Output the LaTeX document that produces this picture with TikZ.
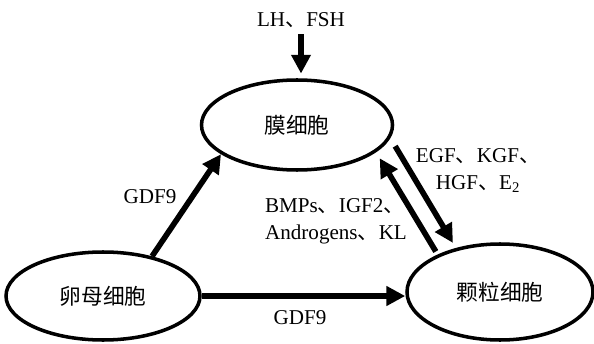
\documentclass[tikz,border=0pt]{standalone}
\usepackage{fontspec}
\setmainfont{Liberation Serif}
\newfontfamily\cjk{Noto Sans CJK SC}
\usetikzlibrary{arrows.meta, shapes.geometric}
\newcommand{\dun}{{\cjk 、}}

\begin{document}
\begin{tikzpicture}[
    x=0.03cm, y=-0.03cm,
    font=\fontsize{18}{23}\selectfont,
    cell/.style={draw, ellipse, line width=3pt, inner sep=0pt, font=\cjk\fontsize{18.5}{22}\selectfont},
    arrow/.style={-{Triangle[length=16pt, width=16pt]}, line width=4.8pt},
]
\useasboundingbox (0,0) rectangle (594,344);

% cells
\node[cell, minimum width=5.73cm, minimum height=2.7cm] (theca) at (297,125) {膜细胞};
\node[cell, minimum width=5.82cm, minimum height=2.64cm] (oocyte) at (103,296) {卵母细胞};
\node[cell, minimum width=5.58cm, minimum height=2.88cm] (granulosa) at (500,292) {颗粒细胞};

% hormones from above
\node (lh) at (301,20) {LH\dun FSH};
\draw[arrow, shorten <=2pt, shorten >=4pt] (lh.south) -- (lh.south |- theca.north);

% oocyte signals
\node (gdfa) at (150,197) {GDF9};
\draw[arrow] (oocyte.39) -- (theca.201);
\node (gdfb) at (300,318) {GDF9};
\draw[arrow] (oocyte.east) -- (oocyte.east -| granulosa.west);

% theca <-> granulosa
\node[align=center] (egf) at (478,171) {EGF\dun KGF\dun\\HGF\dun E\textsubscript{2}};
\node[align=left, anchor=west] (bmp) at (261,221) {BMPs\dun IGF2\dun\\Androgens\dun KL};
\draw[arrow, shorten <=8pt, shorten >=5pt] (theca.-8) -- (granulosa.135);
\draw[arrow, shorten <=3pt, shorten >=6pt] (granulosa.149) -- (theca.-19);
\end{tikzpicture}
\end{document}
